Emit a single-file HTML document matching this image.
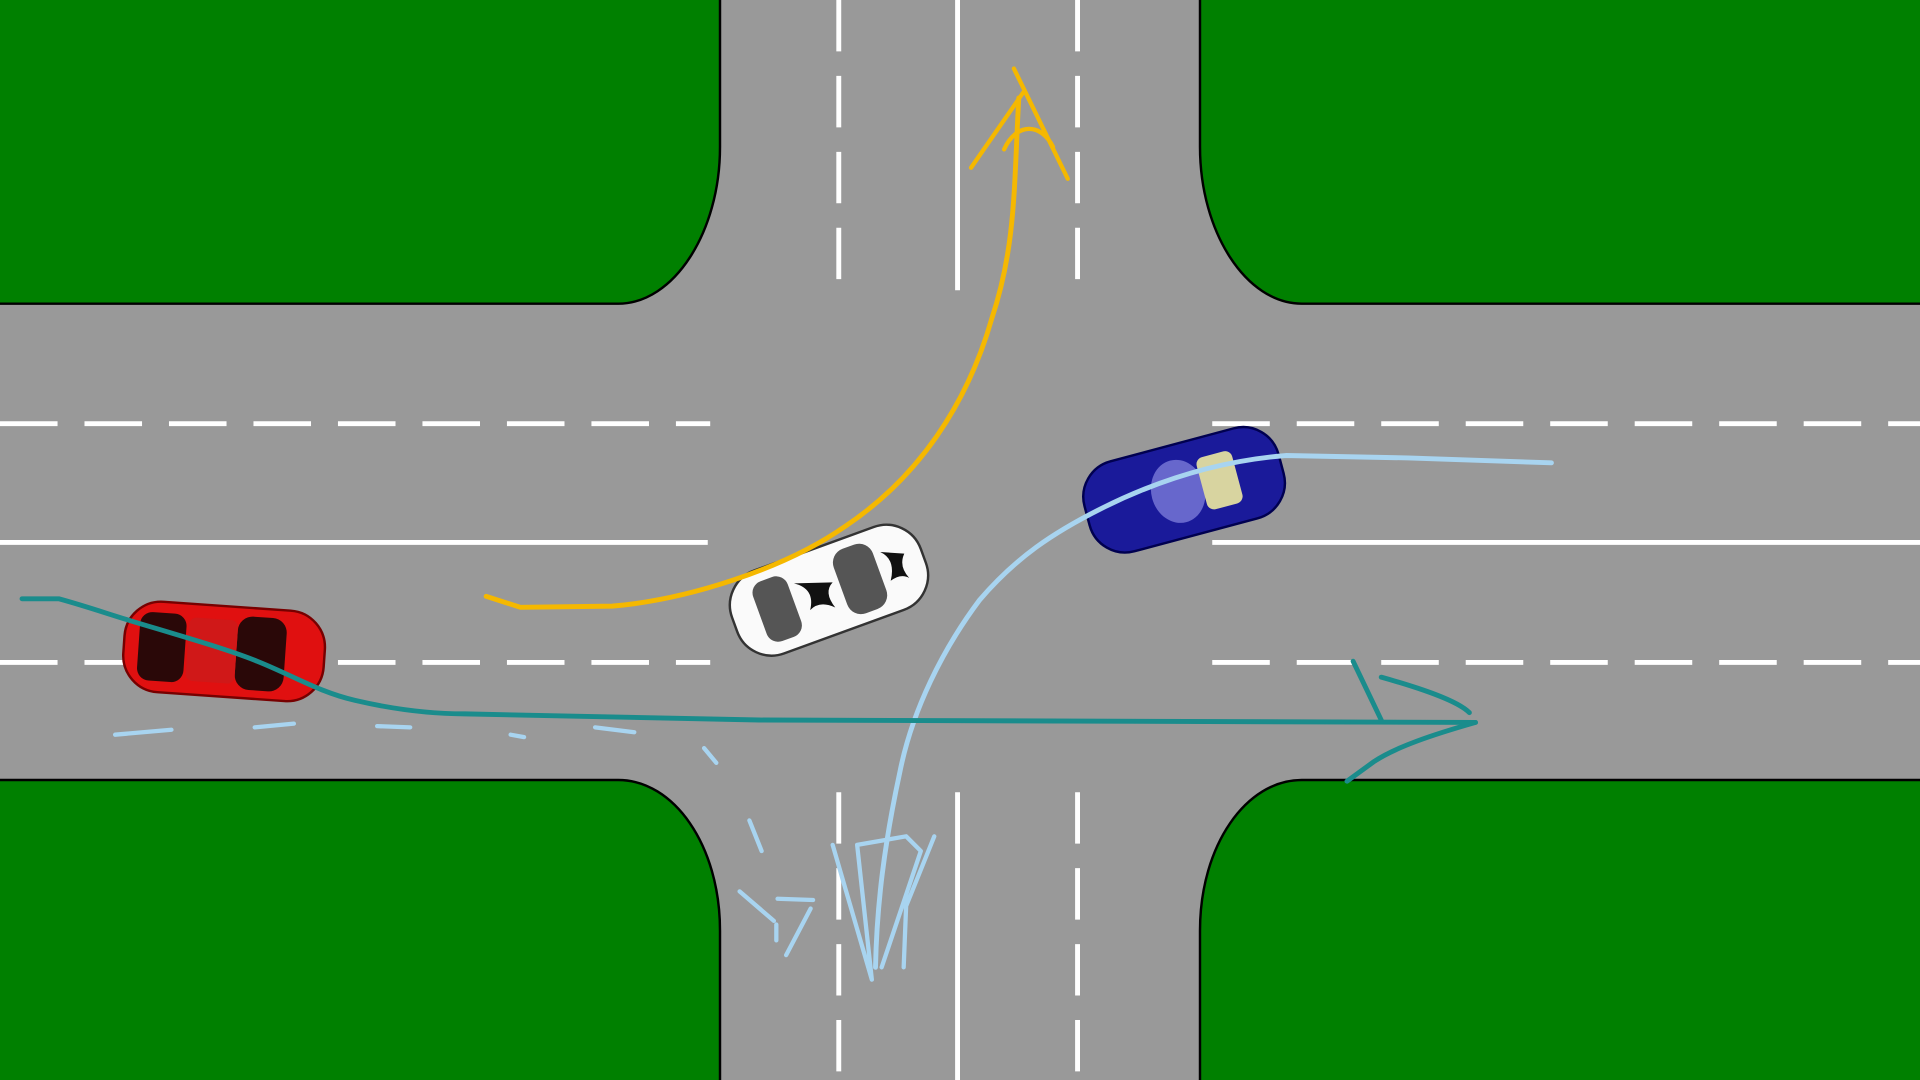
<!DOCTYPE html>
<html><head><meta charset="utf-8"><style>
html,body{margin:0;padding:0;width:1920px;height:1080px;overflow:hidden;background:#999}
svg{display:block}
</style></head><body>
<svg width="1920" height="1080" viewBox="0 0 1568 882" preserveAspectRatio="none" xmlns="http://www.w3.org/2000/svg">
<rect x="0" y="0" width="1568" height="882" fill="#999999"/>
<g fill="#008000" stroke="#000" stroke-width="2">
<path d="M-2,-2 H588 V120 C588,190 550,248 505,248 H-2 Z"/>
<path d="M1570,-2 H980 V120 C980,190 1018,248 1063,248 H1570 Z"/>
<path d="M-2,884 H588 V760 C588,690 550,637 505,637 H-2 Z"/>
<path d="M1570,884 H980 V760 C980,690 1018,637 1063,637 H1570 Z"/>
</g>
<g stroke="#fff" stroke-width="4" fill="none">
<line x1="0" y1="346" x2="580" y2="346" stroke-dasharray="47,22"/>
<line x1="990" y1="346" x2="1568" y2="346" stroke-dasharray="47,22"/>
<line x1="0" y1="443" x2="578" y2="443"/>
<line x1="990" y1="443" x2="1568" y2="443"/>
<line x1="0" y1="541" x2="580" y2="541" stroke-dasharray="47,22"/>
<line x1="990" y1="541" x2="1568" y2="541" stroke-dasharray="47,22"/>
<line x1="685" y1="0" x2="685" y2="237" stroke-dasharray="42,20"/>
<line x1="782" y1="0" x2="782" y2="237"/>
<line x1="880" y1="0" x2="880" y2="237" stroke-dasharray="42,20"/>
<line x1="685" y1="647" x2="685" y2="882" stroke-dasharray="42,20"/>
<line x1="782" y1="647" x2="782" y2="882"/>
<line x1="880" y1="647" x2="880" y2="882" stroke-dasharray="42,20"/>
</g>
<!-- red car -->
<g transform="translate(183,532) rotate(4)">
<rect x="-82" y="-37" width="164" height="74" rx="30" fill="#e01010" stroke="#700" stroke-width="2"/>
<rect x="-70" y="-28" width="38" height="56" rx="10" fill="#2a0808"/>
<rect x="10" y="-30" width="40" height="60" rx="12" fill="#2a0808"/>
<rect x="-30" y="-26" width="40" height="52" rx="6" fill="#d01818"/>
</g>
<!-- white car -->
<g transform="translate(677,482) rotate(-20)">
<rect x="-82" y="-36" width="164" height="72" rx="30" fill="#fafafa" stroke="#333" stroke-width="2"/>
<rect x="-60" y="-26" width="30" height="52" rx="10" fill="#555"/>
<rect x="10" y="-28" width="34" height="56" rx="12" fill="#555"/>
<path d="M-25,-15 q15,10 5,25 q10,-5 20,5 q-5,-15 5,-20 z" fill="#111"/>
<path d="M50,-15 q10,10 0,25 q10,-3 15,3 q-5,-12 3,-20 z" fill="#111"/>
</g>
<!-- blue car -->
<g transform="translate(967,400) rotate(-15)">
<rect x="-82" y="-38" width="164" height="76" rx="30" fill="#1a1a9a" stroke="#000050" stroke-width="2"/>
<ellipse cx="-5" cy="0" rx="22" ry="26" fill="#7a7ad8" opacity="0.8"/>
<rect x="15" y="-22" width="30" height="44" rx="6" fill="#d8d4a0"/>
</g>
<g fill="none" stroke-linecap="round" stroke-linejoin="round">
<!-- orange -->
<path d="M397,487 L425,496 L500,495 C560,490 640,465 690,430 C750,390 790,330 810,260 C830,200 828,150 832,80" stroke="#f5b800" stroke-width="4"/>
<path d="M828,56 L872,146 M836,75 L793,137 M820,122 C830,100 850,100 860,120" stroke="#f5b800" stroke-width="3.5"/>
<!-- light blue -->
<path d="M1267,378 L1150,374 L1050,372 C1000,376 950,390 900,415 C860,435 830,455 800,490 C770,530 745,580 735,630 C722,690 716,740 715,790" stroke="#a8d4f0" stroke-width="4"/>
<path d="M680,690 L712,800 L700,690 L740,683 L752,695 L720,790 M763,683 L740,740 L738,790" stroke="#a8d4f0" stroke-width="3.5"/>
<path d="M94,600 L140,596 M208,594 L240,591 M308,593 L335,594 M417,600 L428,602 M486,594 L518,598 M575,611 L585,623 M612,670 L622,695 M604,728 L632,752 M634,755 L634,768 M635,734 L664,735 M662,742 L642,780" stroke="#a8d4f0" stroke-width="3.5"/>
<!-- teal -->
<path d="M18,489 L48,489 C70,495 90,502 110,508 C150,520 185,530 210,540 C240,552 260,565 290,572 C320,579 350,583 380,583 L620,588 L1205,590" stroke="#1a8c8c" stroke-width="4"/>
<path d="M1105,540 L1128,588 M1128,553 C1160,562 1190,572 1200,582 M1205,590 C1170,600 1140,610 1122,622 L1100,638" stroke="#1a8c8c" stroke-width="4"/>
</g>
</svg>
</body></html>
